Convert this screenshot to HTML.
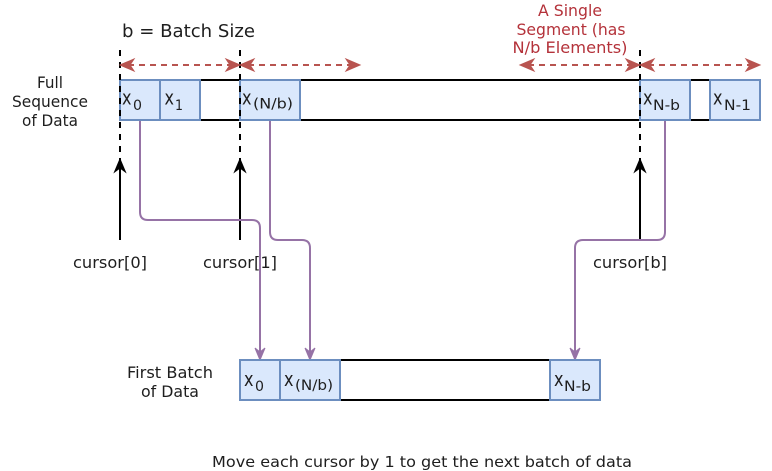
<!DOCTYPE html>
<html>
<head>
<meta charset="utf-8">
<style>
  html, body { margin: 0; padding: 0; background: #ffffff; }
  svg { display: block; }
  text { font-family: "DejaVu Sans", "Liberation Sans", sans-serif; fill: #1e1e1e; }
</style>
</head>
<body>
<svg width="772" height="471" viewBox="0 0 772 471" xmlns="http://www.w3.org/2000/svg">
  <rect x="0" y="0" width="772" height="471" fill="#ffffff"/>

  <!-- Top labels -->
  <text x="122" y="37" font-size="18" textLength="133" lengthAdjust="spacingAndGlyphs">b = Batch Size</text>
  <text x="570" y="16" font-size="16" fill="#b4323a" style="fill:#b4323a" text-anchor="middle" textLength="64" lengthAdjust="spacingAndGlyphs">A Single</text>
  <text x="571" y="35" font-size="16" style="fill:#b4323a" text-anchor="middle" textLength="109" lengthAdjust="spacingAndGlyphs">Segment (has</text>
  <text x="570" y="53" font-size="16" style="fill:#b4323a" text-anchor="middle" textLength="115" lengthAdjust="spacingAndGlyphs">N/b Elements)</text>

  <!-- Left labels -->
  <text x="50" y="88" font-size="16" text-anchor="middle" textLength="26" lengthAdjust="spacingAndGlyphs">Full</text>
  <text x="50" y="107" font-size="16" text-anchor="middle" textLength="76" lengthAdjust="spacingAndGlyphs">Sequence</text>
  <text x="50" y="126" font-size="16" text-anchor="middle" textLength="56" lengthAdjust="spacingAndGlyphs">of Data</text>

  <!-- Main bar -->
  <rect x="120" y="80" width="640" height="40" fill="#ffffff" stroke="#000" stroke-width="2"/>
  <g fill="#dae8fc" stroke="#6c8ebf" stroke-width="2">
    <rect x="120" y="80" width="40" height="40"/>
    <rect x="160" y="80" width="40" height="40"/>
    <rect x="240" y="80" width="60" height="40"/>
    <rect x="640" y="80" width="50" height="40"/>
    <rect x="710" y="80" width="50" height="40"/>
  </g>

  <!-- Upper cell labels -->
  <text x="122" y="104.5" font-size="20" textLength="9.5" lengthAdjust="spacingAndGlyphs">x</text>
  <text x="133" y="110" font-size="14" textLength="9" lengthAdjust="spacingAndGlyphs">0</text>
  <text x="164.5" y="104.5" font-size="20" textLength="9.5" lengthAdjust="spacingAndGlyphs">x</text>
  <text x="175" y="110" font-size="14" textLength="8" lengthAdjust="spacingAndGlyphs">1</text>
  <text x="242" y="104.5" font-size="20" textLength="9.5" lengthAdjust="spacingAndGlyphs">x</text>
  <text x="253" y="108.5" font-size="14" textLength="40" lengthAdjust="spacingAndGlyphs">(N/b)</text>
  <text x="643" y="104.5" font-size="20" textLength="9.5" lengthAdjust="spacingAndGlyphs">x</text>
  <text x="653" y="110" font-size="14" textLength="27" lengthAdjust="spacingAndGlyphs">N-b</text>
  <text x="713" y="104.5" font-size="20" textLength="9.5" lengthAdjust="spacingAndGlyphs">x</text>
  <text x="724" y="110" font-size="14" textLength="27" lengthAdjust="spacingAndGlyphs">N-1</text>

  <!-- Dashed vertical black lines -->
  <g stroke="#000" stroke-width="2" stroke-dasharray="6 6" fill="none">
    <line x1="120" y1="50" x2="120" y2="162"/>
    <line x1="240" y1="50" x2="240" y2="162"/>
    <line x1="640" y1="50" x2="640" y2="162"/>
  </g>

  <!-- Red dashed double arrows -->
  <g stroke="#b85450" stroke-width="2" stroke-dasharray="6 5" fill="none">
    <line x1="128" y1="65" x2="232" y2="65"/>
    <line x1="248" y1="65" x2="352" y2="65"/>
    <line x1="528" y1="65" x2="632" y2="65"/>
    <line x1="648" y1="65" x2="752" y2="65"/>
  </g>
  <g fill="#b85450" stroke="#b85450" stroke-width="1">
    <polygon points="120,65 134,59 130,65 134,71"/>
    <polygon points="240,65 226,59 230,65 226,71"/>
    <polygon points="240,65 254,59 250,65 254,71"/>
    <polygon points="360,65 346,59 350,65 346,71"/>
    <polygon points="520,65 534,59 530,65 534,71"/>
    <polygon points="640,65 626,59 630,65 626,71"/>
    <polygon points="640,65 654,59 650,65 654,71"/>
    <polygon points="760,65 746,59 750,65 746,71"/>
  </g>

  <!-- Cursor arrows -->
  <g stroke="#000" stroke-width="2" fill="none">
    <line x1="120" y1="240" x2="120" y2="166"/>
    <line x1="240" y1="240" x2="240" y2="166"/>
    <line x1="640" y1="240" x2="640" y2="166"/>
  </g>
  <g fill="#000" stroke="#000" stroke-width="1">
    <polygon points="120,159 114.5,172 120,168 125.5,172"/>
    <polygon points="240,159 234.5,172 240,168 245.5,172"/>
    <polygon points="640,159 634.5,172 640,168 645.5,172"/>
  </g>

  <text x="110" y="268" font-size="16" text-anchor="middle" textLength="74" lengthAdjust="spacingAndGlyphs">cursor[0]</text>
  <text x="240" y="268" font-size="16" text-anchor="middle" textLength="74" lengthAdjust="spacingAndGlyphs">cursor[1]</text>
  <text x="630" y="268" font-size="16" text-anchor="middle" textLength="74" lengthAdjust="spacingAndGlyphs">cursor[b]</text>

  <!-- Purple connectors -->
  <g stroke="#9673a6" stroke-width="2" fill="none">
    <path d="M140,121 V212 Q140,220 148,220 H252 Q260,220 260,228 V352"/>
    <path d="M270,121 V232 Q270,240 278,240 H302 Q310,240 310,248 V352"/>
    <path d="M665,121 V232 Q665,240 657,240 H583 Q575,240 575,248 V352"/>
  </g>
  <g fill="#9673a6" stroke="#9673a6" stroke-width="1">
    <polygon points="260,360 255,348 260,352 265,348"/>
    <polygon points="310,360 305,348 310,352 315,348"/>
    <polygon points="575,360 570,348 575,352 580,348"/>
  </g>

  <!-- Lower bar -->
  <text x="170" y="378" font-size="16" text-anchor="middle" textLength="86" lengthAdjust="spacingAndGlyphs">First Batch</text>
  <text x="170" y="397" font-size="16" text-anchor="middle" textLength="58" lengthAdjust="spacingAndGlyphs">of Data</text>

  <rect x="240" y="360" width="360" height="40" fill="#ffffff" stroke="#000" stroke-width="2"/>
  <g fill="#dae8fc" stroke="#6c8ebf" stroke-width="2">
    <rect x="240" y="360" width="40" height="40"/>
    <rect x="280" y="360" width="60" height="40"/>
    <rect x="550" y="360" width="50" height="40"/>
  </g>
  <text x="244" y="386" font-size="20" textLength="9.5" lengthAdjust="spacingAndGlyphs">x</text>
  <text x="255" y="391" font-size="14" textLength="9" lengthAdjust="spacingAndGlyphs">0</text>
  <text x="284" y="386" font-size="20" textLength="9.5" lengthAdjust="spacingAndGlyphs">x</text>
  <text x="295" y="390" font-size="14" textLength="38" lengthAdjust="spacingAndGlyphs">(N/b)</text>
  <text x="554" y="386" font-size="20" textLength="9.5" lengthAdjust="spacingAndGlyphs">x</text>
  <text x="564" y="391" font-size="14" textLength="27" lengthAdjust="spacingAndGlyphs">N-b</text>

  <!-- Caption -->
  <text x="422" y="467" font-size="15.5" text-anchor="middle" textLength="420" lengthAdjust="spacingAndGlyphs">Move each cursor by 1 to get the next batch of data</text>
</svg>
</body>
</html>
